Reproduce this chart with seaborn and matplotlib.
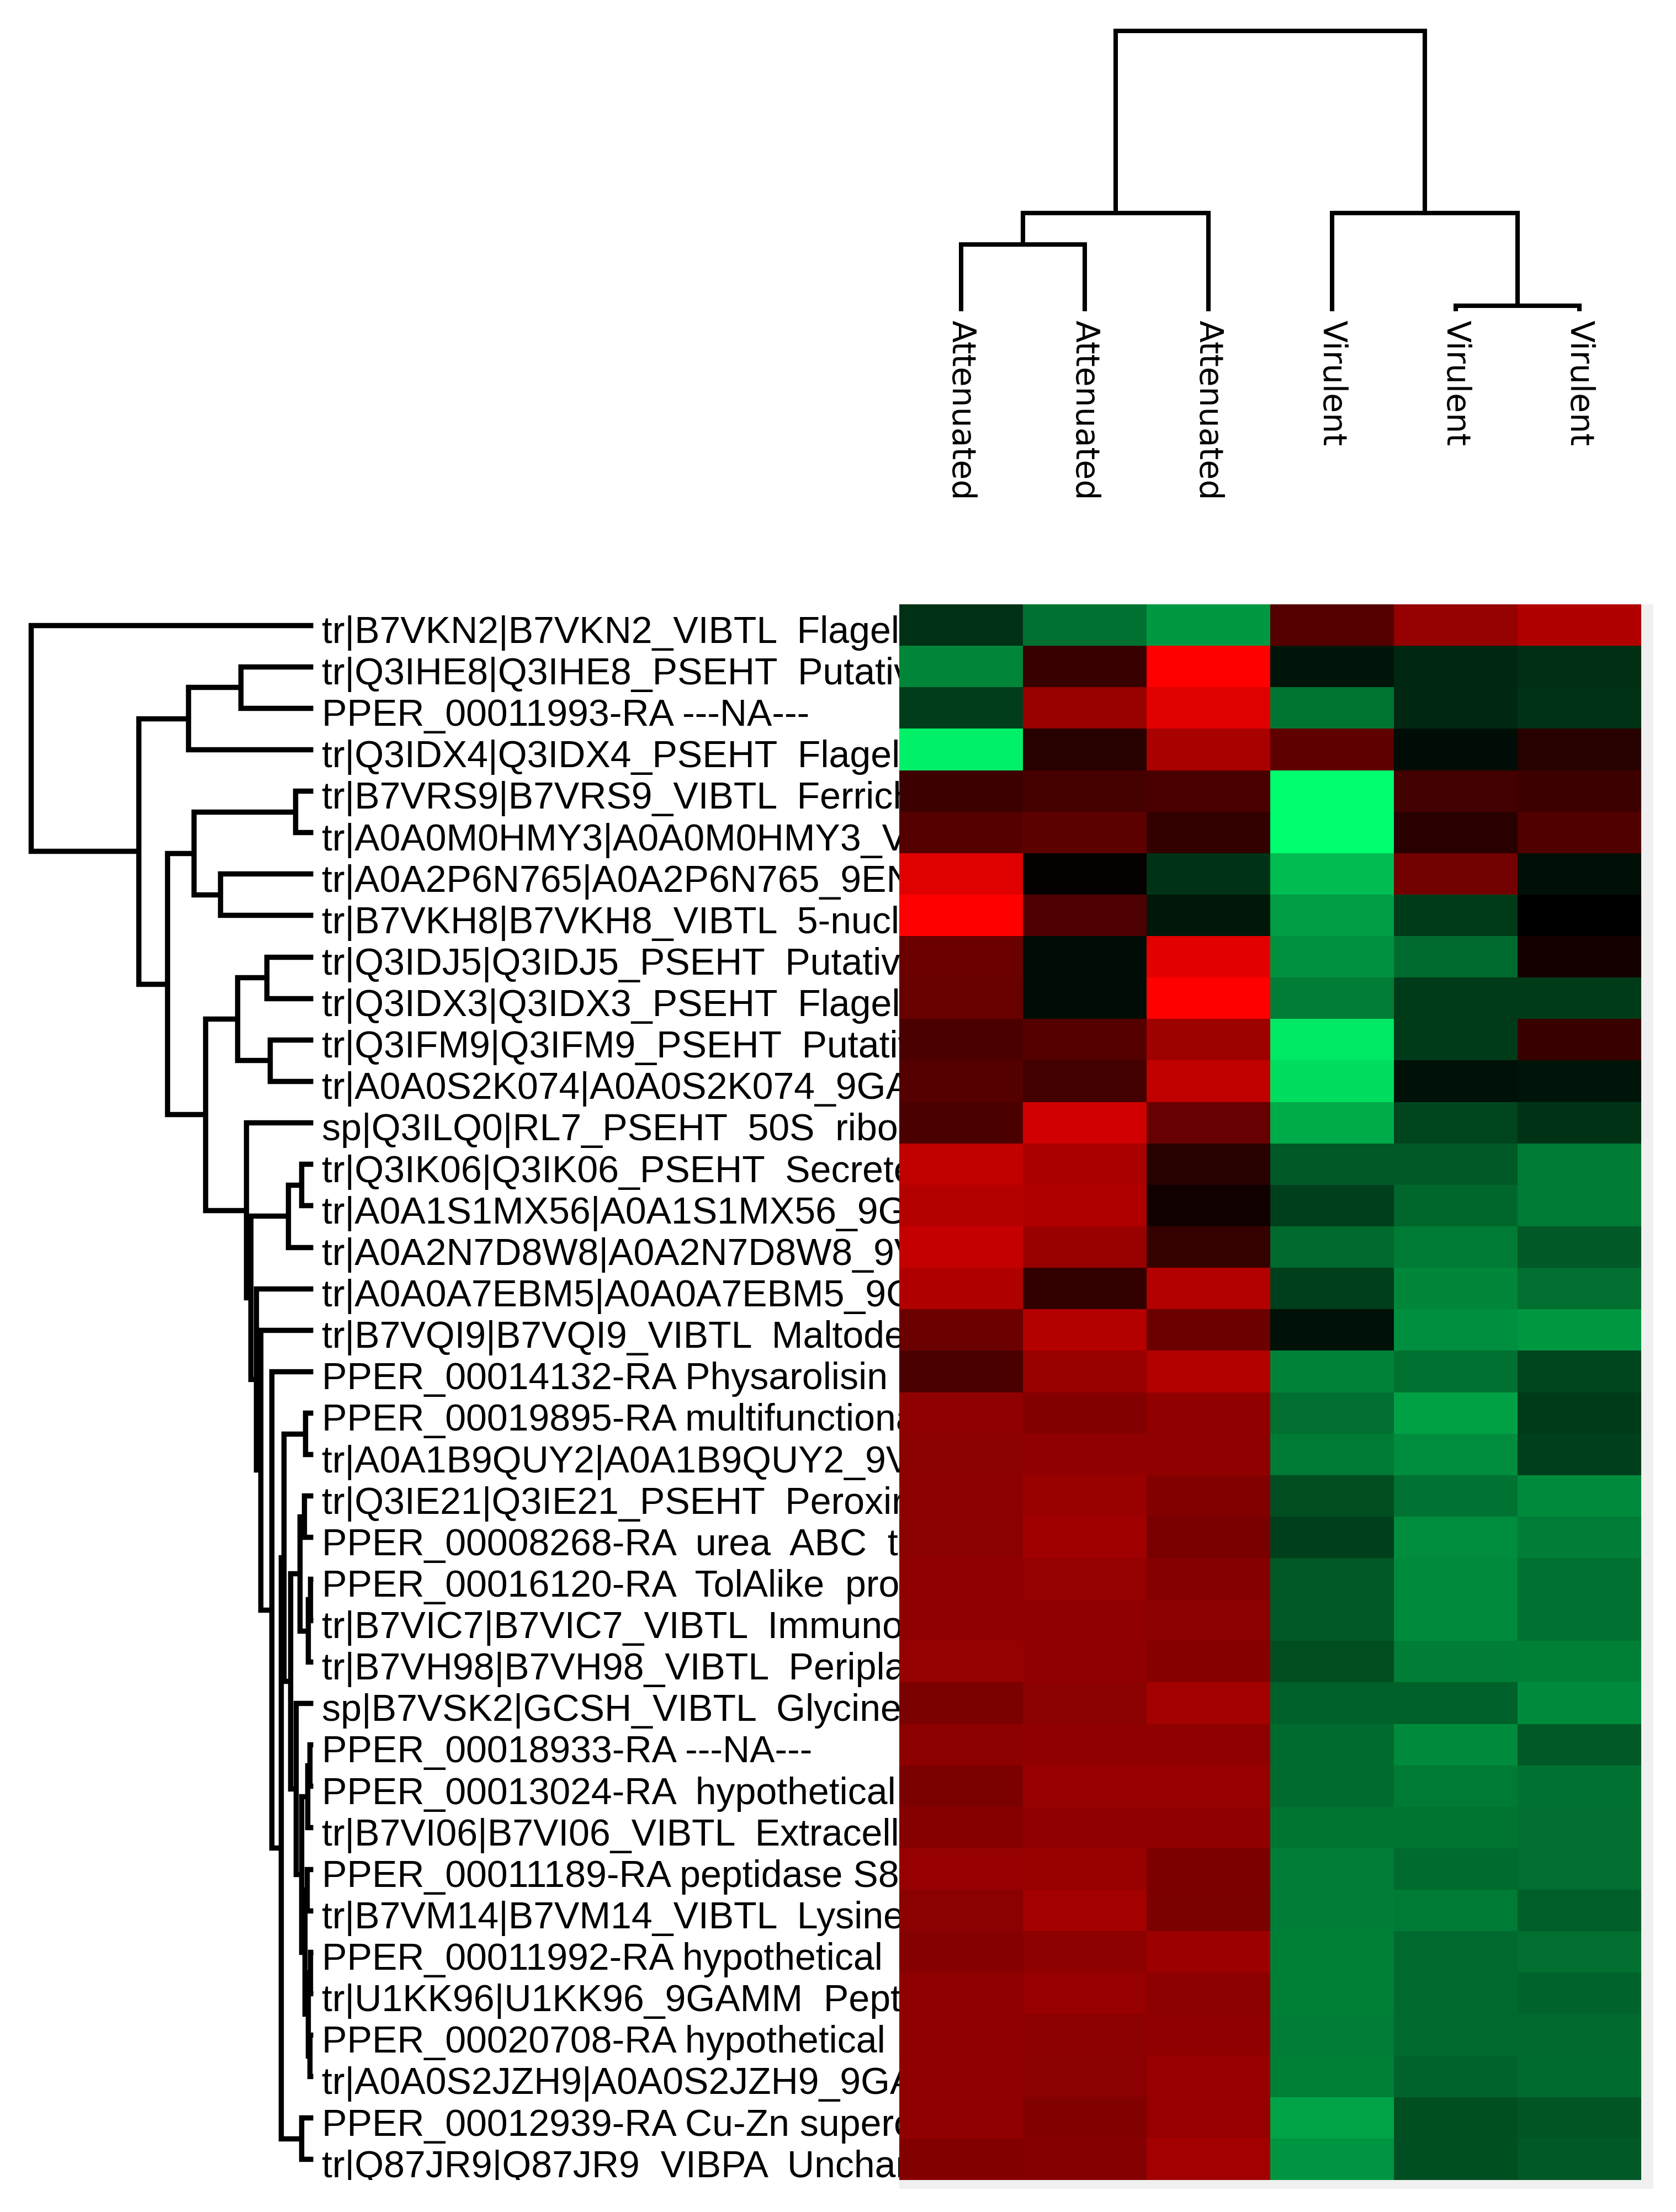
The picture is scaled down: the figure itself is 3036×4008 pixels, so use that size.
import numpy as np
import pandas as pd
import matplotlib
matplotlib.use('Agg')
import matplotlib.pyplot as plt
import seaborn as sns
from matplotlib.colors import LinearSegmentedColormap

# row labels (cut off by the heatmap in the original, as shown there)
genes = [
    'tr|B7VKN2|B7VKN2_VIBTL  Flagellin',
    'tr|Q3IHE8|Q3IHE8_PSEHT  Putative',
    'PPER_00011993-RA ---NA---',
    'tr|Q3IDX4|Q3IDX4_PSEHT  Flagellin',
    'tr|B7VRS9|B7VRS9_VIBTL  Ferrichrome',
    'tr|A0A0M0HMY3|A0A0M0HMY3_VIBTL',
    'tr|A0A2P6N765|A0A2P6N765_9ENTR',
    'tr|B7VKH8|B7VKH8_VIBTL  5-nucleotidase',
    'tr|Q3IDJ5|Q3IDJ5_PSEHT  Putative',
    'tr|Q3IDX3|Q3IDX3_PSEHT  Flagellin',
    'tr|Q3IFM9|Q3IFM9_PSEHT  Putative',
    'tr|A0A0S2K074|A0A0S2K074_9GAMM',
    'sp|Q3ILQ0|RL7_PSEHT  50S  ribosomal',
    'tr|Q3IK06|Q3IK06_PSEHT  Secreted',
    'tr|A0A1S1MX56|A0A1S1MX56_9GAMM',
    'tr|A0A2N7D8W8|A0A2N7D8W8_9VIBR',
    'tr|A0A0A7EBM5|A0A0A7EBM5_9GAMM',
    'tr|B7VQI9|B7VQI9_VIBTL  Maltodextrin',
    'PPER_00014132-RA Physarolisin',
    'PPER_00019895-RA multifunctional',
    'tr|A0A1B9QUY2|A0A1B9QUY2_9VIBR',
    'tr|Q3IE21|Q3IE21_PSEHT  Peroxiredoxin',
    'PPER_00008268-RA  urea  ABC  transporter',
    'PPER_00016120-RA  TolAlike  protein',
    'tr|B7VIC7|B7VIC7_VIBTL  Immunogenic',
    'tr|B7VH98|B7VH98_VIBTL  Periplasmic',
    'sp|B7VSK2|GCSH_VIBTL  Glycine',
    'PPER_00018933-RA ---NA---',
    'PPER_00013024-RA  hypothetical',
    'tr|B7VI06|B7VI06_VIBTL  Extracellular',
    'PPER_00011189-RA peptidase S8',
    'tr|B7VM14|B7VM14_VIBTL  Lysine',
    'PPER_00011992-RA hypothetical',
    'tr|U1KK96|U1KK96_9GAMM  Peptidase',
    'PPER_00020708-RA hypothetical',
    'tr|A0A0S2JZH9|A0A0S2JZH9_9GAMM',
    'PPER_00012939-RA Cu-Zn superoxide',
    'tr|Q87JR9|Q87JR9_VIBPA  Uncharacterized',
]
samples = ['Attenuated', 'Attenuated', 'Attenuated', 'Virulent', 'Virulent', 'Virulent']

# expression values per sample column
att_1 = [-0.19, -0.52, -0.24, -0.94, 0.24, 0.33, 0.88, 1.00, 0.42, 0.41,
         0.29, 0.33, 0.29, 0.75, 0.71, 0.77, 0.69, 0.42, 0.29, 0.56,
         0.54, 0.55, 0.54, 0.57, 0.56, 0.58, 0.48, 0.55, 0.48, 0.53,
         0.59, 0.54, 0.52, 0.56, 0.56, 0.57, 0.57, 0.51]
att_2 = [-0.44, 0.22, 0.60, 0.15, 0.27, 0.36, 0.02, 0.30, -0.05, -0.05,
         0.33, 0.26, 0.82, 0.67, 0.69, 0.60, 0.20, 0.71, 0.60, 0.51,
         0.57, 0.60, 0.63, 0.58, 0.57, 0.57, 0.54, 0.56, 0.59, 0.57,
         0.60, 0.64, 0.55, 0.59, 0.55, 0.54, 0.50, 0.52]
att_3 = [-0.60, 1.00, 0.88, 0.66, 0.29, 0.20, -0.20, -0.09, 0.89, 1.00,
         0.62, 0.75, 0.40, 0.15, 0.07, 0.21, 0.70, 0.42, 0.71, 0.57,
         0.56, 0.51, 0.47, 0.52, 0.55, 0.53, 0.64, 0.56, 0.59, 0.57,
         0.49, 0.48, 0.61, 0.55, 0.57, 0.59, 0.59, 0.64]
vir_1 = [0.33, -0.08, -0.46, 0.37, -1.00, -1.00, -0.74, -0.61, -0.57, -0.49,
         -0.91, -0.86, -0.67, -0.35, -0.25, -0.41, -0.25, -0.07, -0.51, -0.43,
         -0.48, -0.30, -0.25, -0.35, -0.35, -0.30, -0.38, -0.42, -0.42, -0.46,
         -0.49, -0.49, -0.50, -0.50, -0.49, -0.50, -0.64, -0.58]
vir_2 = [0.58, -0.15, -0.15, -0.05, 0.26, 0.16, 0.45, -0.23, -0.42, -0.23,
         -0.23, -0.07, -0.27, -0.35, -0.40, -0.48, -0.53, -0.56, -0.44, -0.63,
         -0.55, -0.45, -0.55, -0.54, -0.54, -0.49, -0.38, -0.54, -0.48, -0.46,
         -0.42, -0.48, -0.41, -0.41, -0.41, -0.39, -0.31, -0.31]
vir_3 = [0.69, -0.18, -0.20, 0.15, 0.24, 0.32, -0.06, 0.00, 0.08, -0.23,
         0.22, -0.08, -0.20, -0.48, -0.48, -0.35, -0.43, -0.59, -0.27, -0.23,
         -0.25, -0.54, -0.49, -0.44, -0.44, -0.50, -0.54, -0.35, -0.44, -0.43,
         -0.43, -0.37, -0.43, -0.39, -0.41, -0.42, -0.33, -0.35]

# dendrograms as merges [left, right, height]; ids >= n refer to earlier merges
row_merges = [
    [4, 5, 12.8], [6, 7, 66], [38, 39, 84.7], [1, 2, 51.5], [41, 3, 88.7],
    [8, 9, 33.2], [10, 11, 30.7], [43, 44, 53.8], [13, 14, 8.2], [46, 15, 17.7],
    [19, 20, 5.5], [21, 22, 6.5], [23, 24, 2.0], [50, 25, 3.5], [49, 51, 9.5],
    [27, 28, 2.5], [53, 29, 4.0], [30, 31, 4.5], [32, 33, 2.0], [34, 35, 2.5],
    [56, 57, 3.5], [55, 58, 6.0], [54, 59, 8.5], [26, 60, 12.4], [52, 61, 16.3],
    [48, 62, 21.0], [36, 37, 8.5], [63, 64, 22.8], [18, 65, 29.5], [17, 66, 37.5],
    [16, 67, 40.5], [47, 68, 44.5], [12, 69, 47.5], [45, 70, 76.5], [40, 71, 103.6],
    [42, 72, 123.7], [0, 73, 200],
]
col_merges = [[0, 1, 121], [6, 2, 178], [4, 5, 10], [3, 8, 178], [7, 9, 508]]

df = pd.DataFrame({'A1': att_1, 'A2': att_2, 'A3': att_3,
                   'V1': vir_1, 'V2': vir_2, 'V3': vir_3}, index=genes)


def tree_segments(merges, n):
    pos = {i: i + 0.5 for i in range(n)}
    hgt = {i: 0.0 for i in range(n)}
    segs = []
    for k, (a, b, h) in enumerate(merges):
        segs.append(([hgt[a], h, h, hgt[b]], [pos[a], pos[a], pos[b], pos[b]]))
        pos[n + k] = (pos[a] + pos[b]) / 2
        hgt[n + k] = h
    return segs


W, H, DPI = 3036, 4008, 200
fig = plt.figure(figsize=(W / DPI, H / DPI), dpi=DPI, facecolor='white')

def box(x0, y0, x1, y1):
    # pixel box (top-left origin) -> figure fraction
    return [x0 / W, 1 - y1 / H, (x1 - x0) / W, (y1 - y0) / H]

# light grey frame behind the heatmap (right and bottom edge)
ax_bg = fig.add_axes(box(1629, 1095, 2995, 3966))
ax_bg.set_facecolor('#f0f0f0')
ax_bg.set_xticks([])
ax_bg.set_yticks([])
for s in ax_bg.spines.values():
    s.set_visible(False)

# heatmap
ax_hm = fig.add_axes(box(1629, 1095, 2973, 3950))
cmap = LinearSegmentedColormap.from_list('grn_blk_red', ['#00ff6e', '#000000', '#ff0000'])
sns.heatmap(df, cmap=cmap, vmin=-1, vmax=1, cbar=False,
            xticklabels=False, yticklabels=False, ax=ax_hm)
ax_hm.set_xlabel('')
ax_hm.set_ylabel('')

# row dendrogram + labels
ax_row = fig.add_axes(box(0, 1095, 1629, 3950))
for xs, ys in tree_segments(row_merges, len(genes)):
    ax_row.plot([-v for v in xs], ys, color='black', lw=3.4,
                solid_joinstyle='miter', solid_capstyle='butt')
for i, g in enumerate(genes):
    ax_row.text(6, i + 0.93, g, ha='left', va='baseline', fontsize=24.5,
                family=['Liberation Sans', 'DejaVu Sans'], clip_on=True)
ax_row.set_xlim(-222, 1629 / 2.556 - 222)
ax_row.set_ylim(len(genes), 0)
ax_row.axis('off')

# column dendrogram + labels
ax_col = fig.add_axes(box(1629, 0, 2973, 564))
for hs, xs in tree_segments(col_merges, len(samples)):
    ax_col.plot(xs, hs, color='black', lw=2.9,
                solid_joinstyle='miter', solid_capstyle='butt')
for j, s in enumerate(samples):
    ax_col.text(j + 0.5, -16, s, rotation=270, ha='center', va='top',
                fontsize=21, family=['DejaVu Sans'], clip_on=False)
ax_col.set_xlim(0, len(samples))
ax_col.set_ylim(0, 564)
ax_col.axis('off')

fig.savefig('out.png', dpi=DPI, facecolor='white')
